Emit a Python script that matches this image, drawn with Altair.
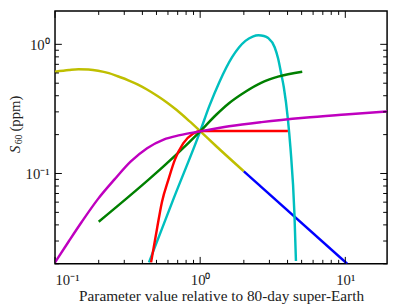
import altair as alt
import pandas as pd

# ---- data ----
yellow_x = [0.1, 0.125, 0.145, 0.17, 0.198, 0.235, 0.27, 0.32, 0.37, 0.43, 0.505, 0.59, 0.689, 0.847, 1.0, 1.28, 2.0]
yellow_y = [0.614, 0.633, 0.641, 0.638, 0.625, 0.598, 0.566, 0.527, 0.49, 0.447, 0.40, 0.355, 0.31, 0.253, 0.213, 0.164, 0.104]

blue_x = [2.0, 10.3]
blue_y = [0.104, 0.02]

cyan_x = [0.444, 0.655, 1.0, 1.156, 1.35, 1.66, 1.85, 2.05, 2.3, 2.52, 2.75, 2.94, 3.26, 3.44, 3.62, 3.77, 4.02, 4.19, 4.46, 4.57]
cyan_y = [0.0205, 0.0636, 0.212, 0.332, 0.505, 0.796, 0.946, 1.064, 1.148, 1.175, 1.16, 1.12, 0.95, 0.78, 0.59, 0.465, 0.265, 0.157, 0.049, 0.021]

green_x = [0.2, 1.0, 1.29, 1.58, 2.05, 2.65, 3.44, 5.05]
green_y = [0.0423, 0.212, 0.285, 0.35, 0.43, 0.506, 0.562, 0.614]

red_x = [0.459, 0.505, 0.545, 0.605, 0.67, 0.764, 0.892, 1.0, 4.02]
red_y = [0.0205, 0.0377, 0.06, 0.09, 0.128, 0.171, 0.203, 0.213, 0.213]

magenta_x = [0.1, 0.1245, 0.153, 0.198, 0.257, 0.333, 0.431, 0.56, 0.725, 1.0, 1.58, 2.65, 5.2, 10.0, 19.4]
magenta_y = [0.0205, 0.0299, 0.0423, 0.0636, 0.09, 0.124, 0.157, 0.183, 0.198, 0.212, 0.232, 0.25, 0.27, 0.286, 0.302]

series = {
    "yellow": (yellow_x, yellow_y),
    "blue": (blue_x, blue_y),
    "cyan": (cyan_x, cyan_y),
    "green": (green_x, green_y),
    "red": (red_x, red_y),
    "magenta": (magenta_x, magenta_y),
}
color_domain = ["magenta", "green", "red", "cyan", "yellow", "blue"]
color_range = ["#bf00bf", "#008000", "#ff0000", "#00bfbf", "#bfbf00", "#0000ff"]

x_major = [0.1, 1, 10]
x_minor = [0.2, 0.3, 0.4, 0.5, 0.6, 0.7, 0.8, 0.9, 2, 3, 4, 5, 6, 7, 8, 9]
y_major = [0.1, 1]
y_minor = [0.02, 0.03, 0.04, 0.05, 0.06, 0.07, 0.08, 0.09,
           0.2, 0.3, 0.4, 0.5, 0.6, 0.7, 0.8, 0.9]

rows = []
for name, (xs, ys) in series.items():
    for i, (a, b) in enumerate(zip(xs, ys)):
        rows.append({"s": name, "x": a, "y": b, "i": i})
df = pd.DataFrame(rows)

W, H = 339, 258
FONT = "Liberation Serif"
TXT = "#222"

xscale = alt.Scale(type="log", domain=[0.1, 19.4], nice=False)
yscale = alt.Scale(type="log", domain=[0.02, 1.81], nice=False)

xaxis = alt.Axis(values=x_major, ticks=False, domain=False, grid=False,
                 labelExpr="datum.value < 0.5 ? '10⁻¹' : datum.value < 5 ? '10⁰' : '10¹'",
                 labelFont=FONT, labelFontSize=15, labelColor=TXT, labelPadding=9,
                 title="Parameter value relative to 80-day super-Earth",
                 titleFont=FONT, titleFontSize=15.6, titleFontWeight="normal",
                 titleColor=TXT, titlePadding=1)
yaxis = alt.Axis(values=y_major, ticks=False, domain=False, grid=False,
                 labelExpr="datum.value < 0.5 ? '10⁻¹' : '10⁰'",
                 labelFont=FONT, labelFontSize=15, labelColor=TXT, labelPadding=6,
                 title="")

X = alt.X("x:Q", scale=xscale, axis=xaxis)
Y = alt.Y("y:Q", scale=yscale, axis=yaxis)

lines = alt.Chart(df).mark_line(strokeWidth=2.5, interpolate="monotone", clip=True).encode(
    x=X, y=Y,
    color=alt.Color("s:N", scale=alt.Scale(domain=color_domain, range=color_range), legend=None),
    detail="s:N",
    order="i:Q",
)

def xticks(vals, L):
    d = pd.DataFrame({"x": vals})
    top = alt.Chart(d).mark_rule(color="#000", strokeWidth=1).encode(
        x=X, y=alt.value(0), y2=alt.value(L))
    bot = alt.Chart(d).mark_rule(color="#000", strokeWidth=1).encode(
        x=X, y=alt.value(H), y2=alt.value(H - L))
    return top + bot

def yticks(vals, L):
    d = pd.DataFrame({"y": vals})
    left = alt.Chart(d).mark_rule(color="#000", strokeWidth=1).encode(
        y=Y, x=alt.value(0), x2=alt.value(L))
    right = alt.Chart(d).mark_rule(color="#000", strokeWidth=1).encode(
        y=Y, x=alt.value(W), x2=alt.value(W - L))
    return left + right

# y-axis title: italic S, subscript 60, then (ppm)
one = pd.DataFrame({"t": ["S"]})
t_s = alt.Chart(one).mark_text(text="S", font=FONT, fontSize=15, fontStyle="italic",
                               angle=270, align="left", baseline="middle", color=TXT).encode(
    x=alt.value(-41), y=alt.value(145))
t_sub = alt.Chart(one).mark_text(text="60", font=FONT, fontSize=10,
                                 angle=270, align="left", baseline="middle", color=TXT).encode(
    x=alt.value(-37), y=alt.value(136))
t_ppm = alt.Chart(one).mark_text(text="(ppm)", font=FONT, fontSize=15,
                                 angle=270, align="left", baseline="middle", color=TXT).encode(
    x=alt.value(-41), y=alt.value(123))

chart = alt.layer(
    lines,
    xticks(x_major, 7), xticks(x_minor, 4),
    yticks(y_major, 7), yticks(y_minor, 4),
    t_s, t_sub, t_ppm,
).properties(
    width=W, height=H, autosize="none",
    padding={"left": 48, "top": 0, "right": 4, "bottom": 40},
).configure_view(stroke="#000", strokeWidth=1.5)

chart.save("out.html", embed_options={"renderer": "svg", "actions": False})
